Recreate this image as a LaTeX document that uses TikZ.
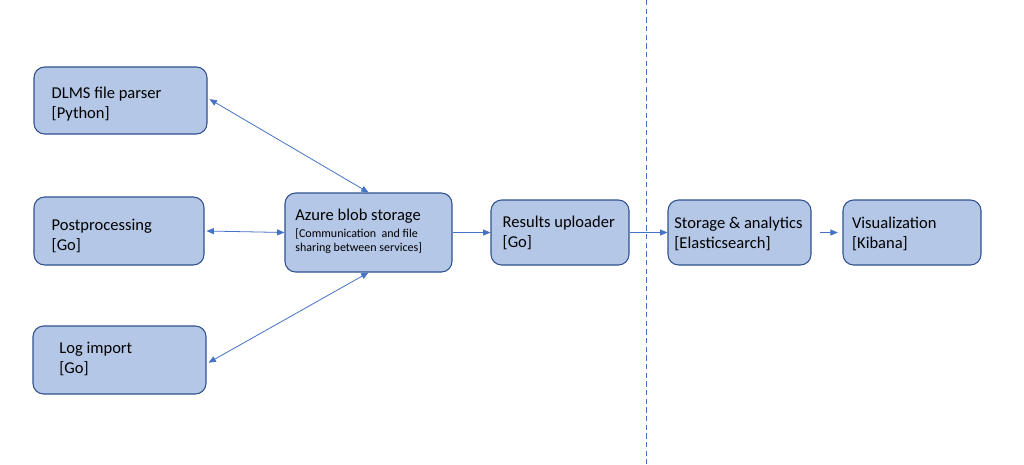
\documentclass[tikz,border=0pt]{standalone}
\usepackage{fontspec}
\setmainfont{Carlito}
\usetikzlibrary{arrows.meta,fit}
\definecolor{boxfill}{HTML}{B4C7E7}
\definecolor{boxline}{HTML}{2F528F}
\definecolor{arrowc}{HTML}{4472C4}
\tikzset{
  box/.style={draw=boxline, fill=boxfill, line width=0.8pt, rounded corners=8pt, inner sep=0pt},
  txt/.style={anchor=west, align=left, inner sep=0pt, font=\fontsize{12.4pt}{15pt}\selectfont},
  conn/.style={draw=arrowc, line width=0.6pt, -{Triangle[length=5.5pt,width=4.5pt]}},
  biconn/.style={draw=arrowc, line width=0.6pt, {Triangle[length=5.5pt,width=4.5pt]}-{Triangle[length=5.5pt,width=4.5pt]}},
  divider/.style={draw=arrowc, line width=0.6pt, dash pattern=on 4pt off 2.5pt}
}
\begin{document}
\begin{tikzpicture}[x=0.75pt,y=-0.75pt]
\useasboundingbox (0,0) rectangle (1024,464);
% boxes
\node[box, fit={(34,67) (207,134)}] (dlms) {};
\node[box, fit={(34,197) (204,265)}] (post) {};
\node[box, fit={(33,326) (206,394)}] (logi) {};
\node[box, fit={(285,193) (452,272)}] (azure) {};
\node[box, fit={(491,200) (629,265)}] (res) {};
\node[box, fit={(668,200) (811,265)}] (stor) {};
\node[box, fit={(843,200) (981,265)}] (vis) {};
% texts
\node[txt] (dlmst) at ([xshift=13.5pt,yshift=-2.5pt]dlms.west) {DLMS file parser\\{[Python]}};
\node[txt] (postt) at ([xshift=13.5pt,yshift=-3.5pt]post.west) {Postprocessing\\{[Go]}};
\node[txt] (logit) at ([xshift=20pt,yshift=1pt]logi.west) {Log import\\{[Go]}};
\node[txt, anchor=north west, font=\fontsize{9pt}{10.5pt}\selectfont] (azuret) at ([xshift=8pt,yshift=-12.25pt]azure.north west) {{\fontsize{12.4pt}{15pt}\selectfont Azure blob storage}\\[2.5pt][Communication\ \ and file\\sharing between services]};
\node[txt] (rest) at ([xshift=9pt,yshift=-0.5pt]res.west) {Results uploader\\{[Go]}};
\node[txt] (stort) at ([xshift=5pt,yshift=-1pt]stor.west) {Storage \& analytics\\{[Elasticsearch]}};
\node[txt] (vist) at ([xshift=7pt,yshift=-1pt]vis.west) {Visualization\\{[Kibana]}};
% divider
\coordinate (dtop) at (646,0);
\coordinate (dbot) at (646,464);
\draw[divider] (dtop) -- (dbot);
% connectors
\draw[biconn] ([xshift=1.5pt,yshift=1pt]dlms.east) -- (azure.north);
\draw[biconn] ([xshift=1.5pt]post.east) -- (azure.west);
\draw[biconn] ([xshift=1.5pt,yshift=-2pt]logi.east) -- (azure.south);
\draw[conn] (azure.east) -- (res.west);
\draw[conn] (res.east) -- (stor.west);
\draw[conn, shorten <=6pt, shorten >=3.5pt] (stor.east) -- (vis.west);
\end{tikzpicture}
\end{document}
